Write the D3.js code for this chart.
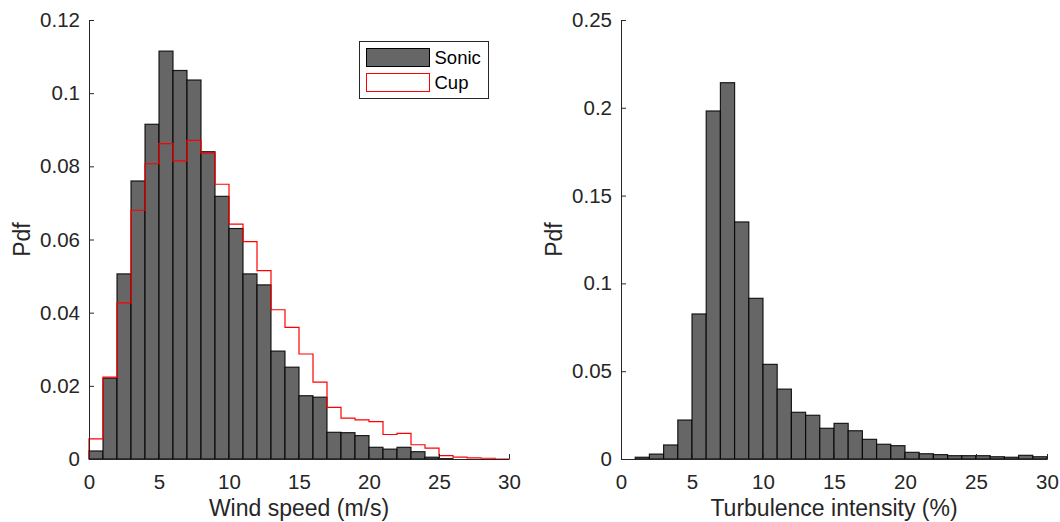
<!DOCTYPE html>
<html>
<head>
<meta charset="utf-8">
<script src="https://cdn.jsdelivr.net/npm/d3@7"></script>
<style>
  body { margin: 0; background: #fff; }
  svg { display: block; font-family: Arial, "Liberation Sans", sans-serif; }
</style>
</head>
<body>
<svg id="chart" width="1060" height="522"></svg>
<script>
// bin edges are 0,1,2,...,30 for both panels
const binEdges = d3.range(0, 31);

// wind speed pdf, sonic anemometer (bins 0-1 ... 29-30)
const sonicPdf = [0.0022, 0.0221, 0.0506, 0.0760, 0.0915, 0.1115, 0.1062, 0.1036, 0.0840, 0.0718,
                  0.0630, 0.0506, 0.0476, 0.0295, 0.0251, 0.0173, 0.0169, 0.0073, 0.0072, 0.0064,
                  0.0032, 0.0027, 0.0032, 0.0020, 0.0005, 0.0001, 0, 0, 0, 0];

// wind speed pdf, cup anemometer
const cupPdf = [0.0055, 0.0224, 0.0427, 0.0680, 0.0807, 0.0862, 0.0815, 0.0871, 0.0836, 0.0751,
                0.0642, 0.0594, 0.0515, 0.0408, 0.0360, 0.0287, 0.0210, 0.0141, 0.0112, 0.0107,
                0.0102, 0.0067, 0.0070, 0.0039, 0.0030, 0.0009, 0.0005, 0.0003, 0.0002, 0];

// turbulence intensity pdf
const tiPdf = [0, 0.0010, 0.0028, 0.0080, 0.0222, 0.0826, 0.1982, 0.2143, 0.1350, 0.0915,
               0.0539, 0.0398, 0.0266, 0.0249, 0.0175, 0.0203, 0.0161, 0.0112, 0.0084, 0.0076,
               0.0038, 0.0030, 0.0025, 0.0019, 0.0019, 0.0019, 0.0013, 0.0010, 0.0021, 0.0013];

const xTicks = [0, 5, 10, 15, 20, 25, 30];
const yTicksLeft = [0, 0.02, 0.04, 0.06, 0.08, 0.1, 0.12];
const yTicksRight = [0, 0.05, 0.1, 0.15, 0.2, 0.25];

const axisColor = "#262626";
const barFill = "#666666";

const svg = d3.select("#chart");

function toBins(vals) {
  return vals.map((v, i) => ({ x0: binEdges[i], x1: binEdges[i + 1], v: v }));
}

function drawPanel(opt) {
  const x = d3.scaleLinear().domain([0, 30]).range([opt.left, opt.right]);
  const y = d3.scaleLinear().domain([0, opt.ymax]).range([459, 20]);
  const g = svg.append("g");

  // bars
  g.append("g")
    .selectAll("rect")
    .data(toBins(opt.bars).filter(d => d.v > 0))
    .join("rect")
    .attr("x", d => x(d.x0))
    .attr("y", d => y(d.v))
    .attr("width", d => x(d.x1) - x(d.x0))
    .attr("height", d => y(0) - y(d.v))
    .attr("fill", barFill)
    .attr("stroke", "#000")
    .attr("stroke-opacity", 0.85)
    .attr("stroke-width", 1.2);

  // stairs outline
  if (opt.stairs) {
    const pts = [[0, 0]];
    toBins(opt.stairs).forEach(d => { pts.push([d.x0, d.v]); pts.push([d.x1, d.v]); });
    pts.push([30, 0]);
    g.append("path")
      .datum(pts)
      .attr("fill", "none")
      .attr("stroke", "#ff0000")
      .attr("stroke-width", 1.2)
      .attr("d", d3.line().x(d => x(d[0])).y(d => y(d[1])));
  }

  // axes, ticks inward
  const xAxis = g.append("g")
    .attr("transform", `translate(0,${y(0)})`)
    .call(d3.axisBottom(x).tickValues(xTicks).tickFormat(d3.format("d")).tickSizeInner(-5).tickSizeOuter(0).tickPadding(15));
  const yAxis = g.append("g")
    .attr("transform", `translate(${x(0)},0)`)
    .call(d3.axisLeft(y).tickValues(opt.yTicks).tickFormat(d => d === 0 ? "0" : String(+d.toFixed(2))).tickSizeInner(-5).tickSizeOuter(0).tickPadding(9));

  [xAxis, yAxis].forEach(a => {
    a.select(".domain").attr("stroke", axisColor).attr("stroke-width", 1);
    a.selectAll(".tick line").attr("stroke", axisColor);
    a.selectAll(".tick text").attr("fill", axisColor).style("font-size", "20.5px").style("font-family", "Arial, 'Liberation Sans', sans-serif");
  });

  g.append("text")
    .attr("x", (opt.left + opt.right) / 2)
    .attr("y", 516)
    .attr("text-anchor", "middle")
    .attr("fill", axisColor)
    .style("font-size", "23px")
    .text(opt.xlabel);

  g.append("text")
    .attr("transform", `translate(${opt.left - 59},${(y(0) + y(opt.ymax)) / 2}) rotate(-90)`)
    .attr("text-anchor", "middle")
    .attr("fill", axisColor)
    .style("font-size", "23px")
    .text("Pdf");

  return { x, y, g };
}

drawPanel({ left: 89, right: 509, ymax: 0.12, yTicks: yTicksLeft, bars: sonicPdf, stairs: cupPdf, xlabel: "Wind speed (m/s)" });
drawPanel({ left: 621, right: 1047, ymax: 0.25, yTicks: yTicksRight, bars: tiPdf, xlabel: "Turbulence intensity (%)" });

// legend
const leg = svg.append("g").attr("transform", "translate(359.5,41.5)");
leg.append("rect").attr("width", 129).attr("height", 57).attr("fill", "#fff").attr("stroke", axisColor).attr("stroke-width", 1);
const legItems = [
  { name: "Sonic", fill: barFill, stroke: "#000" },
  { name: "Cup", fill: "#fff", stroke: "#ff0000" }
];
legItems.forEach((d, i) => {
  leg.append("rect")
    .attr("x", 7).attr("y", 7 + i * 25)
    .attr("width", 63).attr("height", 18)
    .attr("fill", d.fill).attr("stroke", d.stroke).attr("stroke-width", 1);
  leg.append("text")
    .attr("x", 75).attr("y", 16 + i * 25)
    .attr("dy", "0.36em")
    .attr("fill", "#000")
    .style("font-size", "18.5px")
    .text(d.name);
});
</script>
</body>
</html>
